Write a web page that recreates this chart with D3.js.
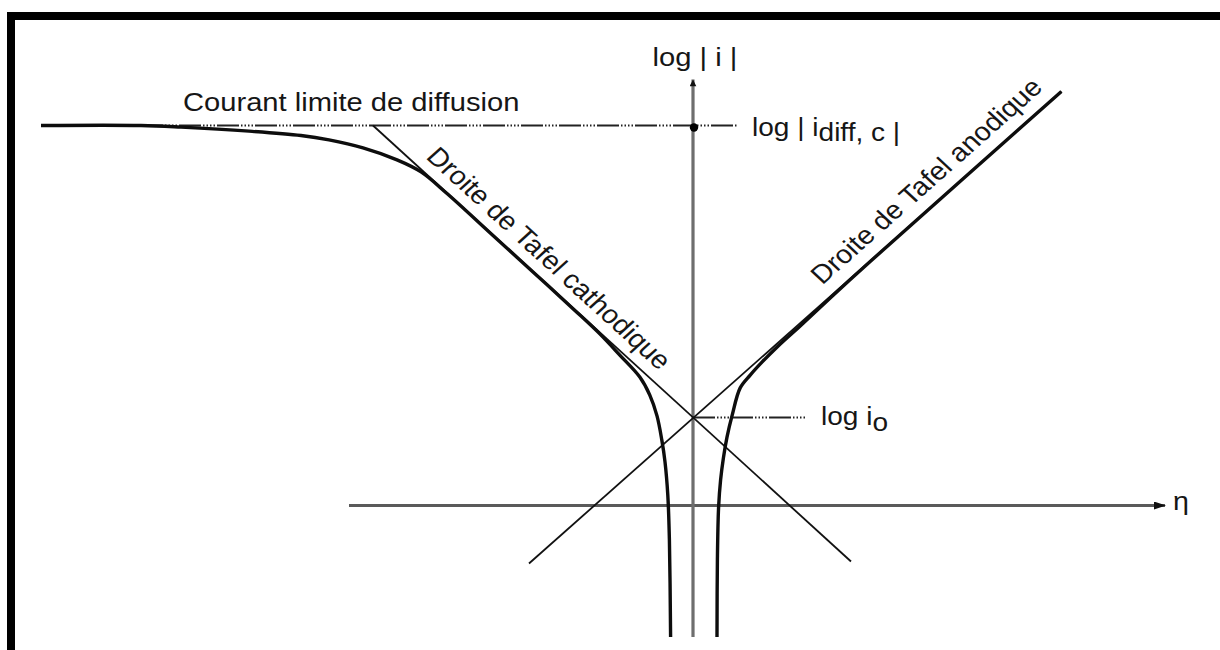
<!DOCTYPE html>
<html>
<head>
<meta charset="utf-8">
<script src="https://cdn.jsdelivr.net/npm/d3@7"></script>
<style>
  html, body { margin: 0; padding: 0; background: #fff; }
  svg { display: block; }
  text { font-family: "Liberation Sans", Arial, sans-serif; fill: #161616; }
</style>
</head>
<body>
<svg id="chart" width="1220" height="650"></svg>
<script>
// Polarisation curve log|i| = f(η) with diffusion-limited cathodic branch
// (η in arbitrary units, log|i| in arbitrary units)

const logIdiff = 9.5;          // diffusion limiting current level
const logI0 = 2.2;             // exchange current level

// net current, cathodic branch (η, log|i|)
const cathodicCurve = [
  [-16.3, 9.5], [-13.8, 9.5], [-12.8, 9.46], [-11.1, 9.36], [-9.8, 9.25],
  [-9.1, 9.14], [-8.25, 8.94], [-7.4, 8.64], [-6.8, 8.34], [-6.15, 7.8],
  [-5.0, 6.75], [-4.0, 5.84], [-3.0, 4.92], [-2.33, 4.29], [-1.83, 3.76],
  [-1.33, 3.21], [-1.08, 2.76], [-0.9, 2.24], [-0.78, 1.64], [-0.7, 1.09],
  [-0.63, 0.26], [-0.59, -0.86], [-0.56, -3.29]
];

// net current, anodic branch (η, log|i|)
const anodicCurve = [
  [0.6, -3.29], [0.61, -1.36], [0.64, -0.04], [0.69, 0.64], [0.76, 1.19],
  [0.85, 1.71], [0.98, 2.26], [1.18, 2.94], [1.43, 3.26], [1.73, 3.59],
  [2.13, 3.99], [2.68, 4.49], [3.43, 5.19], [4.43, 6.1], [9.21, 10.35]
];

// Tafel straight lines
const cathodicTafel = [[-8.0, 9.5], [3.95, -1.4]];
const anodicTafel = [[-4.1, -1.45], [9.21, 10.35]];

// reference lines
const limitLine = [[-13.8, logIdiff], [1.12, logIdiff]];
const exchangeLine = [[0, logI0], [2.85, logI0]];

// axes extents
const etaAxisRange = [-8.6, 11.8];
const logAxisRange = [-3.29, 10.65];

// label texts
const axisLabelY = "log | i |";
const axisLabelX = "η";
const limitLabel = "Courant limite de diffusion";
const idiffLabel = ["log | i", "diff, c", " |"];
const i0Label = ["log i", "o"];
const cathodicLabel = "Droite de Tafel cathodique";
const anodicLabel = "Droite de Tafel anodique";

const W = 1220, H = 650;
const svg = d3.select("#chart");
const stretch = 1.1;

const x = d3.scaleLinear().domain([-17, 13]).range([13, 1213]);
const y = d3.scaleLinear().domain([-3.6, 11]).range([649.5, 65.5]);

const line = d3.line().x(d => x(d[0])).y(d => y(d[1]));
const smooth = d3.line().x(d => x(d[0])).y(d => y(d[1])).curve(d3.curveCatmullRom.alpha(0.5));

// frame
svg.append("rect").attr("x", 7).attr("y", 12).attr("width", W - 7).attr("height", 8).attr("fill", "#000");
svg.append("rect").attr("x", 7).attr("y", 12).attr("width", 8).attr("height", H - 12).attr("fill", "#000");

// arrow markers
const defs = svg.append("defs");
defs.append("marker").attr("id", "arrH")
  .attr("viewBox", "0 0 12 8").attr("refX", 11).attr("refY", 4)
  .attr("markerWidth", 12).attr("markerHeight", 8).attr("markerUnits", "userSpaceOnUse")
  .attr("orient", "auto")
  .append("path").attr("d", "M0,0 L12,4 L0,8 Z").attr("fill", "#111");
defs.append("marker").attr("id", "arrV")
  .attr("viewBox", "0 0 10 12").attr("refX", 10).attr("refY", 5)
  .attr("markerWidth", 10).attr("markerHeight", 8).attr("markerUnits", "userSpaceOnUse")
  .attr("orient", "auto")
  .append("path").attr("d", "M0,0 L10,5 L0,10 Z").attr("fill", "#111");

// axes
svg.append("path")
  .attr("d", line([[etaAxisRange[0], 0], [etaAxisRange[1], 0]]))
  .attr("stroke", "#5a5a5a").attr("stroke-width", 3.2).attr("fill", "none")
  .attr("marker-end", "url(#arrH)");
svg.append("path")
  .attr("d", line([[0, logAxisRange[0]], [0, logAxisRange[1]]]))
  .attr("stroke", "#6e6e6e").attr("stroke-width", 3.2).attr("fill", "none")
  .attr("marker-end", "url(#arrV)");

// dash-dot reference lines
const dashDot = "22,2,1.5,2,1.5,2,1.5,2,1.5,2";
svg.append("path").attr("d", line(limitLine))
  .attr("stroke", "#222").attr("stroke-width", 2).attr("fill", "none")
  .attr("stroke-dasharray", dashDot);
svg.append("path").attr("d", line(exchangeLine))
  .attr("stroke", "#222").attr("stroke-width", 2).attr("fill", "none")
  .attr("stroke-dasharray", dashDot);

// Tafel lines
[cathodicTafel, anodicTafel].forEach(seg => {
  svg.append("path").attr("d", line(seg))
    .attr("stroke", "#111").attr("stroke-width", 1.8).attr("fill", "none");
});

// polarisation curves
[cathodicCurve, anodicCurve].forEach(c => {
  svg.append("path").attr("d", smooth(c))
    .attr("stroke", "#0d0d0d").attr("stroke-width", 3.4).attr("fill", "none")
    .attr("stroke-linejoin", "round");
});

// limiting-current point on the log|i| axis
svg.append("circle").attr("cx", x(0) + 1).attr("cy", y(logIdiff) + 2).attr("r", 4.2).attr("fill", "#000");

// text helper: horizontally stretched labels
function label(px, py, anchor, size) {
  return svg.append("text")
    .attr("transform", `translate(${px},${py}) scale(${stretch},1)`)
    .attr("text-anchor", anchor)
    .attr("font-size", size);
}

label(x(0) + 2, 66, "middle", 26.5).text(axisLabelY);
label(1173, 510, "start", 26).text(axisLabelX);
label(183, 111, "start", 26.5).text(limitLabel);

const t1 = label(752, 136, "start", 25.5);
t1.append("tspan").text(idiffLabel[0]);
t1.append("tspan").attr("dy", 5).text(idiffLabel[1]);
t1.append("tspan").text(idiffLabel[2]);

const t2 = label(821, 425, "start", 25.5);
t2.append("tspan").text(i0Label[0]);
t2.append("tspan").attr("dy", 6).text(i0Label[1]);

// labels along the Tafel lines
function tafelLabel(seg, eta, offset, text) {
  const [a, b] = seg;
  const k = (b[1] - a[1]) / (b[0] - a[0]);
  const L = a[1] + k * (eta - a[0]);
  const slopePx = (y(b[1]) - y(a[1])) / (x(b[0]) - x(a[0]));
  const ang = Math.atan(slopePx * stretch) * 180 / Math.PI;
  svg.append("text")
    .attr("transform", `translate(${x(eta)},${y(L)}) scale(${stretch},1) rotate(${ang})`)
    .attr("text-anchor", "middle")
    .attr("font-size", 26)
    .attr("y", -offset)
    .text(text);
}
tafelLabel(cathodicTafel, -3.98, 10.8, cathodicLabel);
tafelLabel(anodicTafel, 6.25, 13, anodicLabel);
</script>
</body>
</html>
